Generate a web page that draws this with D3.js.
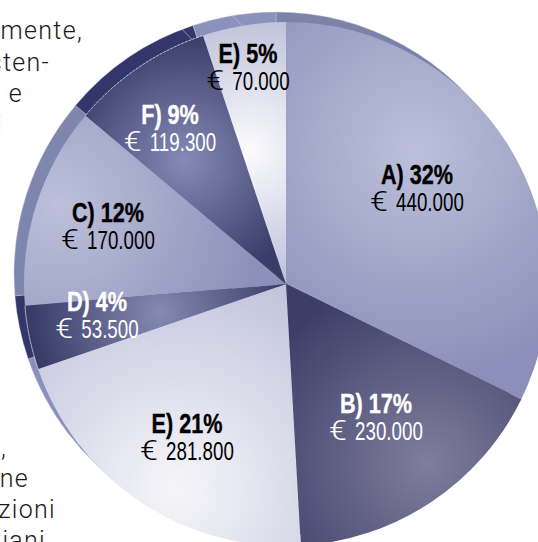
<!DOCTYPE html>
<html>
<head>
<meta charset="utf-8">
<style>
html, body { margin: 0; padding: 0; background: #fff; overflow: hidden; }
svg { display: block; }
.body { font-family: "Roboto", "Liberation Sans", sans-serif; font-weight: 300; font-size: 25px; letter-spacing: 1.3px; fill: #1a1a1a; }
.head { font-family: "Liberation Sans", sans-serif; font-weight: 700; font-size: 27px; stroke-width: 0.4px; }
.val { font-family: "Liberation Sans", sans-serif; font-size: 25px; }
.euro { font-family: "Roboto", sans-serif; font-weight: 300; font-size: 27px; }
</style>
</head>
<body>
<svg width="538" height="542"></svg>
<script src="https://cdn.jsdelivr.net/npm/d3@7"></script>
<script>
var letters = ["A", "B", "E", "D", "C", "F", "E"];
var percents = [32, 17, 21, 4, 12, 9, 5];
var amounts = [440000, 230000, 281800, 53500, 170000, 119300, 70000];
var amountLabels = ["440.000", "230.000", "281.800", "53.500", "170.000", "119.300", "70.000"];

var glowColors = ["#bcc0da", "#807e9d", "#f6f6f9", "#858ab2", "#bcc0da", "#858ab6", "#fbfbfd"];
var edgeColors = ["#8a90b9", "#3c3e68", "#bcbfd9", "#383b66", "#8a90b9", "#3a3d68", "#bcbfd9"];
var rimColors = ["#7c83a9", "#3c3e68", "#8a90bc", "#33366a", "#7f86ae", "#33366a", "#8a91bd"];
var inkColors = ["#000", "#fff", "#000", "#fff", "#000", "#fff", "#000"];

// where each slice is brightest, and where its label sits
var glowX = [415, 427, 175, 160, 60, 185, 250];
var glowY = [150, 463, 490, 313, 205, 160, 150];
var glowR = [230, 190, 250, 130, 210, 125, 140];
var labelX = [417, 376, 187, 97, 108, 170, 248];
var labelY = [184, 413, 433, 311, 222, 124, 63];

var bodyLines = ["mente,", "sten-", "e", "i", "e,", "ne", "nzioni", "ziani"];
var bodyEnd = [83, 50, 23, 3, 7, 29, 56, 46];
var bodyBase = [39, 71, 102, 134, 456, 487, 518, 549];

// extra seams on the rim, degrees clockwise from the top
var seamAngles = [339, 350.4];

var cx = 286,
    cy = 284,
    radius = 262,
    rimShift = -10,
    headSqueeze = 0.8,
    valSqueeze = 0.75,
    euroStretch = 1.2,
    euroWidth = 19,
    euroGap = 7;

var svg = d3.select("svg");

svg.selectAll(".body")
    .data(bodyLines)
  .enter().append("text")
    .attr("class", "body")
    .attr("text-anchor", "end")
    .attr("x", function(d, i) { return bodyEnd[i]; })
    .attr("y", function(d, i) { return bodyBase[i]; })
    .text(function(d) { return d; });

var pie = d3.pie().sort(null);
var arcs = pie(amounts);
var arc = d3.arc().innerRadius(0).outerRadius(radius);

var defs = svg.append("defs");
// faces sit in a translated group, so gradient centres are relative to the pie centre
var grads = defs.selectAll("radialGradient")
    .data(arcs)
  .enter().append("radialGradient")
    .attr("id", function(d, i) { return "glow" + i; })
    .attr("gradientUnits", "userSpaceOnUse")
    .attr("cx", function(d, i) { return glowX[i] - cx; })
    .attr("cy", function(d, i) { return glowY[i] - cy; })
    .attr("r", function(d, i) { return glowR[i]; });
grads.append("stop").attr("offset", "0%").attr("stop-color", function(d, i) { return glowColors[i]; });
grads.append("stop").attr("offset", "100%").attr("stop-color", function(d, i) { return edgeColors[i]; });

// the rim is the same pie pushed up and left, the faces cover most of it
svg.append("g")
    .attr("transform", "translate(" + (cx + rimShift) + "," + (cy + rimShift) + ")")
  .selectAll("path")
    .data(arcs)
  .enter().append("path")
    .attr("d", arc)
    .attr("fill", function(d, i) { return rimColors[i]; })
    .attr("stroke", "#c9cce0")
    .attr("stroke-width", 0.4);

var faces = svg.append("g")
    .attr("transform", "translate(" + cx + "," + cy + ")");

faces.selectAll(".seam")
    .data(seamAngles)
  .enter().append("line")
    .attr("class", "seam")
    .attr("x1", function(d) { return radius * Math.sin(d * Math.PI / 180); })
    .attr("y1", function(d) { return -radius * Math.cos(d * Math.PI / 180); })
    .attr("x2", function(d) { return radius * Math.sin(d * Math.PI / 180) + rimShift; })
    .attr("y2", function(d) { return -radius * Math.cos(d * Math.PI / 180) + rimShift; })
    .attr("stroke", "#c9cce0")
    .attr("stroke-width", 0.6);

faces.selectAll(".face")
    .data(arcs)
  .enter().append("path")
    .attr("class", "face")
    .attr("d", arc)
    .attr("fill", function(d, i) { return "url(#glow" + i + ")"; });

// thin light edge on the dark slices only
var edgeArc = d3.arc().innerRadius(radius).outerRadius(radius);
faces.selectAll(".edge")
    .data(arcs.filter(function(d) { return d.index === 3 || d.index === 5; }))
  .enter().append("path")
    .attr("class", "edge")
    .attr("d", edgeArc)
    .attr("fill", "none")
    .attr("stroke", "#fff")
    .attr("stroke-opacity", 0.6)
    .attr("stroke-width", 0.7)
    .attr("stroke-dasharray", "3 1");

var labels = svg.selectAll(".label")
    .data(letters)
  .enter().append("g")
    .attr("class", "label")
    .attr("fill", function(d, i) { return inkColors[i]; });

// no narrow face is installed, so the labels are squeezed by hand
labels.append("text")
    .attr("class", "head")
    .attr("text-anchor", "middle")
    .attr("stroke", function(d, i) { return inkColors[i]; })
    .attr("transform", function(d, i) {
      return "translate(" + labelX[i] + "," + labelY[i] + ") scale(" + headSqueeze + ",1)";
    })
    .text(function(d, i) { return d + ") " + percents[i] + "%"; });

labels.each(function(d, i) {
  var g = d3.select(this);
  var digits = g.append("text")
      .attr("class", "val")
      .text(amountLabels[i]);
  var w = digits.node().getComputedTextLength() * valSqueeze;
  var left = labelX[i] - (euroWidth + euroGap + w) / 2;
  digits.attr("transform", "translate(" + (left + euroWidth + euroGap) + "," + (labelY[i] + 27) + ") scale(" + valSqueeze + ",1)");
  g.append("text")
      .attr("class", "euro")
      .attr("transform", "translate(" + left + "," + (labelY[i] + 27) + ") scale(" + euroStretch + ",1)")
      .text("€");
});
</script>
</body>
</html>
